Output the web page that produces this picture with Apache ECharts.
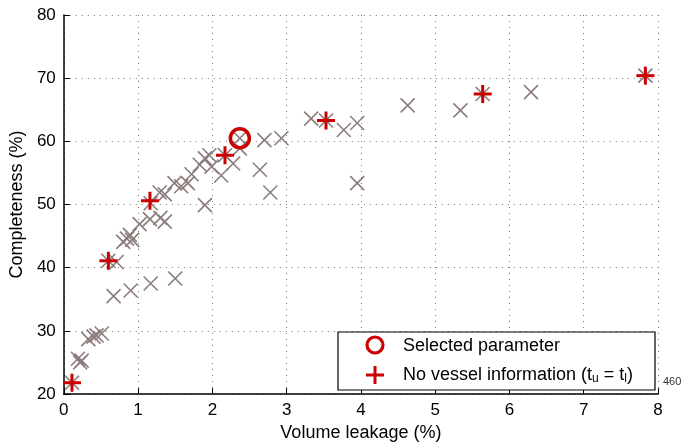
<!DOCTYPE html>
<html><head><meta charset="utf-8">
<script src="https://cdn.jsdelivr.net/npm/echarts@6/dist/echarts.min.js"></script>
<style>html,body{margin:0;padding:0;background:#fff}#c{width:686px;height:447px}</style>
</head><body><div id="c"></div>
<script>
// Gray crosses: all parameter settings [volume leakage %, completeness %]
var allParams = [[0.11,21.8],[0.19,25.6],[0.22,25.0],[0.24,25.3],[0.33,28.7],[0.40,29.1],[0.44,29.3],[0.51,29.6],
[0.67,35.5],[0.90,36.4],[1.17,37.5],[1.50,38.3],[0.60,41.1],[0.71,40.9],[0.80,44.1],[0.85,44.6],[0.89,45.2],[0.92,44.4],
[1.02,46.9],[1.16,47.7],[1.30,47.9],[1.36,47.3],[1.17,50.2],[1.29,51.9],[1.36,51.6],[1.49,53.4],[1.58,52.9],[1.67,53.4],
[1.72,54.8],[1.83,56.3],[1.90,57.3],[1.96,57.8],[1.99,56.0],[2.12,54.6],[2.17,57.8],[2.28,56.5],[2.37,58.9],[2.37,60.5],
[2.70,60.2],[2.93,60.5],[2.64,55.5],[2.78,51.9],[1.90,49.9],[3.33,63.6],[3.53,63.3],[3.77,61.8],[3.95,62.9],[3.95,53.4],
[4.63,65.7],[5.34,64.9],[5.64,67.5],[6.29,67.8],[7.83,70.4]];
// Red plus: no vessel information (t_u = t_l)
var noVessel = [[0.11,21.8],[0.60,41.1],[1.16,50.6],[2.17,57.8],[3.53,63.3],[5.64,67.5],[7.83,70.4]];
// Red circle: selected parameter
var selected = [[2.37,60.5]];
var xTicks = [0,1,2,3,4,5,6,7,8];
var yTicks = [20,30,40,50,60,70,80];

var chart = echarts.init(document.getElementById('c'), null, {renderer:'canvas'});
var FONT = '"Liberation Sans", Arial, sans-serif';
function crossItem(params, api){
  var p = api.coord([api.value(0), api.value(1)]); var s = 7;
  return {type:'group', children:[
    {type:'line', shape:{x1:p[0]-s,y1:p[1]-s,x2:p[0]+s,y2:p[1]+s}, style:{stroke:'#8c7c7c',lineWidth:1.6}},
    {type:'line', shape:{x1:p[0]-s,y1:p[1]+s,x2:p[0]+s,y2:p[1]-s}, style:{stroke:'#8c7c7c',lineWidth:1.6}}
  ]};
}
function plusItem(params, api){
  var p = api.coord([api.value(0), api.value(1)]); var s = 9;
  return {type:'group', children:[
    {type:'line', shape:{x1:p[0]-s,y1:p[1],x2:p[0]+s,y2:p[1]}, style:{stroke:'#cc0000',lineWidth:3}},
    {type:'line', shape:{x1:p[0],y1:p[1]-s,x2:p[0],y2:p[1]+s}, style:{stroke:'#cc0000',lineWidth:3}}
  ]};
}
function circleItem(params, api){
  var p = api.coord([api.value(0), api.value(1)]);
  return {type:'circle', shape:{cx:p[0],cy:p[1],r:9.5}, style:{fill:'none',stroke:'#cc0000',lineWidth:3.5}};
}
chart.setOption({
  animation:false,
  textStyle:{fontFamily:FONT},
  grid:{left:62,right:28,top:15,bottom:48},
  xAxis:{type:'value',min:xTicks[0],max:xTicks[xTicks.length-1],interval:1,
    name:'Volume leakage (%)',nameLocation:'middle',nameGap:29,nameTextStyle:{fontSize:18,color:'#000',fontFamily:FONT},
    axisLine:{show:true,onZero:false,lineStyle:{color:'#000',width:1.5}},
    axisTick:{show:true,inside:true,length:6,lineStyle:{color:'#000'}},
    axisLabel:{fontSize:17,color:'#000',margin:8,fontFamily:FONT},
    splitLine:{show:true,lineStyle:{type:[1,5],color:'#777',width:1}}},
  yAxis:{type:'value',min:yTicks[0],max:yTicks[yTicks.length-1],interval:10,
    name:'Completeness (%)',nameLocation:'middle',nameGap:34,nameTextStyle:{fontSize:18,color:'#000',fontFamily:FONT},
    axisLine:{show:true,onZero:false,lineStyle:{color:'#000',width:1.5}},
    axisTick:{show:true,inside:true,length:6,lineStyle:{color:'#000'}},
    axisLabel:{fontSize:17,color:'#000',margin:8,fontFamily:FONT},
    splitLine:{show:true,lineStyle:{type:[1,5],color:'#777',width:1}}},
  series:[
    {type:'custom',name:'All',data:allParams,renderItem:crossItem,z:2},
    {type:'custom',name:'No vessel information',data:noVessel,renderItem:plusItem,z:3},
    {type:'custom',name:'Selected parameter',data:selected,renderItem:circleItem,z:4}
  ],
  graphic:[
    {type:'rect',shape:{x:338,y:332,width:317,height:58},style:{fill:'#fff',stroke:'#000',lineWidth:1.2},z:10},
    {type:'circle',shape:{cx:375,cy:345,r:8},style:{fill:'none',stroke:'#cc0000',lineWidth:3.2},z:11},
    {type:'line',shape:{x1:366,y1:375,x2:384,y2:375},style:{stroke:'#cc0000',lineWidth:3},z:11},
    {type:'line',shape:{x1:375,y1:366,x2:375,y2:384},style:{stroke:'#cc0000',lineWidth:3},z:11},
    {type:'text',x:403,y:346,style:{text:'Selected parameter',fontSize:18,fill:'#000',fontFamily:FONT,verticalAlign:'middle'},z:11},
    {type:'text',x:403,y:375,style:{text:'No vessel information (t{s|u} = t{s|l})',fontSize:18,fill:'#000',fontFamily:FONT,verticalAlign:'middle',
      rich:{s:{fontSize:12,fontFamily:FONT,fill:'#000',padding:[8,0,0,0]}}},z:11},
    {type:'text',x:663,y:382,style:{text:'460',fontSize:11,fill:'#333',fontFamily:FONT,verticalAlign:'middle'},z:11}
  ]
});
</script></body></html>
